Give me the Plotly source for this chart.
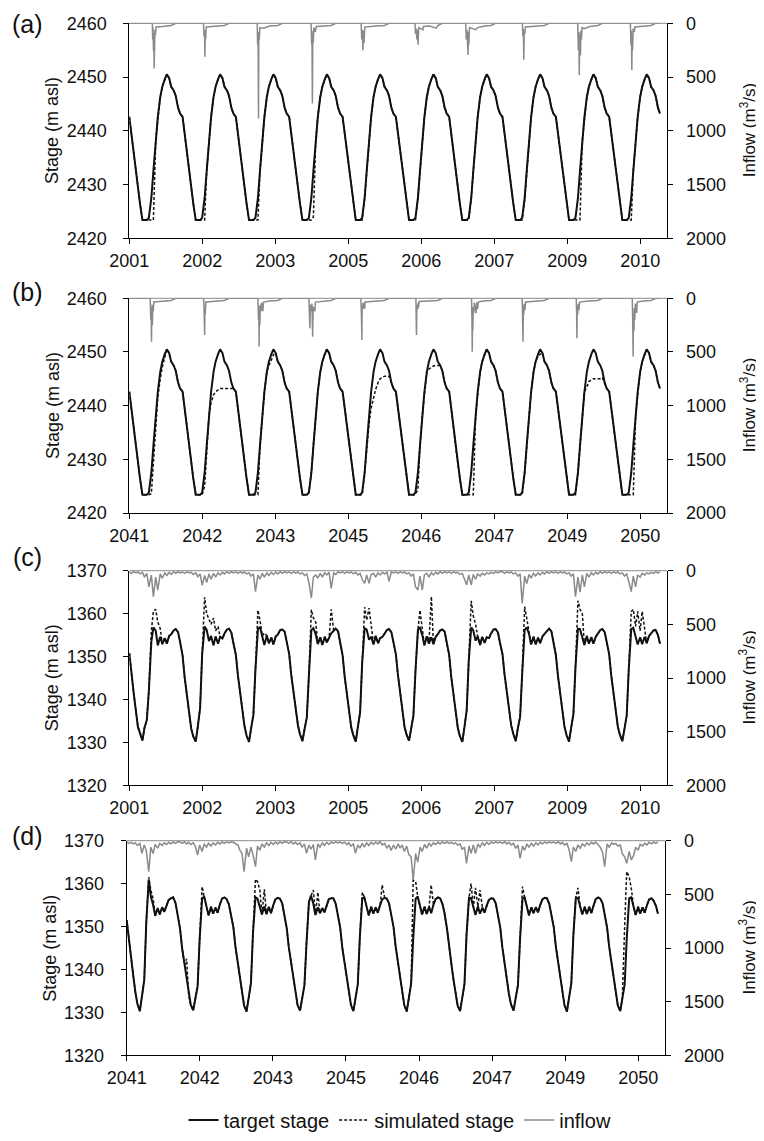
import pandas as pd
import plotly.graph_objects as go

# the page body has an 8 px margin, so the figure is sized to the remaining viewport
W, H = 756, 1133
OFF = 8

# ---------------- x positions: semi-monthly samples (1st and 15th of each month) ----------------
dates_hist = pd.date_range("2001-01-01", "2010-12-15", freq="SMS")
dates_fut = pd.date_range("2041-01-01", "2050-12-15", freq="SMS")

# ---------------- panels (a) and (b): stage (m asl), one row per year, 24 values ----------------
target_ab = [
    [2442.6, 2439.5, 2436.0, 2432.2, 2429.2, 2426.5, 2423.4, 2423.4, 2423.4, 2423.8, 2427.5, 2432.5, 2438.3, 2442.5, 2446.3, 2448.2, 2449.6, 2450.5, 2449.8, 2448.2, 2447.5, 2446.5, 2444.3, 2443.2],
    [2442.6, 2439.5, 2436.0, 2432.2, 2429.2, 2426.5, 2423.4, 2423.4, 2423.4, 2423.8, 2427.5, 2432.5, 2438.3, 2442.5, 2446.3, 2448.2, 2449.6, 2450.5, 2449.8, 2448.2, 2447.5, 2446.5, 2444.3, 2443.2],
    [2442.6, 2439.5, 2436.0, 2432.2, 2429.2, 2426.5, 2423.4, 2423.4, 2423.4, 2423.8, 2427.5, 2432.5, 2438.3, 2442.5, 2446.3, 2448.2, 2449.6, 2450.5, 2449.8, 2448.2, 2447.5, 2446.5, 2444.3, 2443.2],
    [2442.6, 2439.5, 2436.0, 2432.2, 2429.2, 2426.5, 2423.4, 2423.4, 2423.4, 2423.8, 2427.5, 2432.5, 2438.3, 2442.5, 2446.3, 2448.2, 2449.6, 2450.5, 2449.8, 2448.2, 2447.5, 2446.5, 2444.3, 2443.2],
    [2442.6, 2439.5, 2436.0, 2432.2, 2429.2, 2426.5, 2423.4, 2423.4, 2423.4, 2423.8, 2427.5, 2432.5, 2438.3, 2442.5, 2446.3, 2448.2, 2449.6, 2450.5, 2449.8, 2448.2, 2447.5, 2446.5, 2444.3, 2443.2],
    [2442.6, 2439.5, 2436.0, 2432.2, 2429.2, 2426.5, 2423.4, 2423.4, 2423.4, 2423.8, 2427.5, 2432.5, 2438.3, 2442.5, 2446.3, 2448.2, 2449.6, 2450.5, 2449.8, 2448.2, 2447.5, 2446.5, 2444.3, 2443.2],
    [2442.6, 2439.5, 2436.0, 2432.2, 2429.2, 2426.5, 2423.4, 2423.4, 2423.4, 2423.8, 2427.5, 2432.5, 2438.3, 2442.5, 2446.3, 2448.2, 2449.6, 2450.5, 2449.8, 2448.2, 2447.5, 2446.5, 2444.3, 2443.2],
    [2442.6, 2439.5, 2436.0, 2432.2, 2429.2, 2426.5, 2423.4, 2423.4, 2423.4, 2423.8, 2427.5, 2432.5, 2438.3, 2442.5, 2446.3, 2448.2, 2449.6, 2450.5, 2449.8, 2448.2, 2447.5, 2446.5, 2444.3, 2443.2],
    [2442.6, 2439.5, 2436.0, 2432.2, 2429.2, 2426.5, 2423.4, 2423.4, 2423.4, 2423.8, 2427.5, 2432.5, 2438.3, 2442.5, 2446.3, 2448.2, 2449.6, 2450.5, 2449.8, 2448.2, 2447.5, 2446.5, 2444.3, 2443.2],
    [2442.6, 2439.5, 2436.0, 2432.2, 2429.2, 2426.5, 2423.4, 2423.4, 2423.4, 2423.8, 2427.5, 2432.5, 2438.3, 2442.5, 2446.3, 2448.2, 2449.6, 2450.5, 2449.8, 2448.2, 2447.5, 2446.5, 2444.3, 2443.2],
]

sim_a = [
    [2442.6, 2439.5, 2436.0, 2432.2, 2429.2, 2426.5, 2423.4, 2423.4, 2423.4, 2423.4, 2423.4, 2423.4, 2438.3, 2442.5, 2446.3, 2448.2, 2449.6, 2450.5, 2449.8, 2448.2, 2447.5, 2446.5, 2444.3, 2443.2],
    [2442.6, 2439.5, 2436.0, 2432.2, 2429.2, 2426.5, 2423.4, 2423.4, 2423.4, 2423.4, 2423.4, 2432.5, 2438.3, 2442.5, 2446.3, 2448.2, 2449.6, 2450.5, 2449.8, 2448.2, 2447.5, 2446.5, 2444.3, 2443.2],
    [2442.6, 2439.5, 2436.0, 2432.2, 2429.2, 2426.5, 2423.4, 2423.4, 2423.4, 2423.4, 2423.4, 2432.5, 2438.3, 2442.5, 2446.3, 2448.2, 2449.6, 2450.5, 2449.8, 2448.2, 2447.5, 2446.5, 2444.3, 2443.2],
    [2442.6, 2439.5, 2436.0, 2432.2, 2429.2, 2426.5, 2423.4, 2423.4, 2423.4, 2423.4, 2423.4, 2424.0, 2438.3, 2442.5, 2446.3, 2448.2, 2449.6, 2450.5, 2449.8, 2448.2, 2447.5, 2446.5, 2444.3, 2443.2],
    [2442.6, 2439.5, 2436.0, 2432.2, 2429.2, 2426.5, 2423.4, 2423.4, 2423.4, 2423.4, 2427.5, 2432.5, 2438.3, 2442.5, 2446.3, 2448.2, 2449.6, 2450.5, 2449.8, 2448.2, 2447.5, 2446.5, 2444.3, 2443.2],
    [2442.6, 2439.5, 2436.0, 2432.2, 2429.2, 2426.5, 2423.4, 2423.4, 2423.4, 2423.4, 2427.5, 2432.5, 2438.3, 2442.5, 2446.3, 2448.2, 2449.6, 2450.5, 2449.8, 2448.2, 2447.5, 2446.5, 2444.3, 2443.2],
    [2442.6, 2439.5, 2436.0, 2432.2, 2429.2, 2426.5, 2423.4, 2423.4, 2423.4, 2423.4, 2427.5, 2432.5, 2438.3, 2442.5, 2446.3, 2448.2, 2449.6, 2450.5, 2449.8, 2448.2, 2447.5, 2446.5, 2444.3, 2443.2],
    [2442.6, 2439.5, 2436.0, 2432.2, 2429.2, 2426.5, 2423.4, 2423.4, 2423.4, 2423.4, 2427.0, 2432.5, 2438.3, 2442.5, 2446.3, 2448.2, 2449.6, 2450.5, 2449.8, 2448.2, 2447.5, 2446.5, 2444.3, 2443.2],
    [2442.6, 2439.5, 2436.0, 2432.2, 2429.2, 2426.5, 2423.4, 2423.4, 2423.4, 2423.4, 2423.4, 2423.4, 2438.3, 2442.5, 2446.3, 2448.2, 2449.6, 2450.5, 2449.8, 2448.2, 2447.5, 2446.5, 2444.3, 2443.2],
    [2442.6, 2439.5, 2436.0, 2432.2, 2429.2, 2426.5, 2423.4, 2423.4, 2423.4, 2423.4, 2423.4, 2432.5, 2438.3, 2442.5, 2446.3, 2448.2, 2449.6, 2450.5, 2449.8, 2448.2, 2447.5, 2446.5, 2444.3, 2443.2],
]

sim_b = [
    [2442.6, 2439.5, 2436.0, 2432.2, 2429.2, 2426.5, 2423.4, 2423.4, 2423.4, 2423.4, 2423.6, 2430.0, 2437.0, 2441.5, 2445.0, 2447.2, 2449.0, 2450.5, 2449.8, 2448.2, 2447.5, 2446.5, 2444.3, 2443.2],
    [2442.6, 2439.5, 2436.0, 2432.2, 2429.2, 2426.5, 2423.4, 2423.4, 2423.4, 2423.4, 2425.0, 2432.5, 2438.3, 2440.5, 2442.0, 2442.6, 2443.0, 2443.2, 2443.2, 2443.2, 2443.2, 2443.2, 2443.3, 2443.2],
    [2442.6, 2439.5, 2436.0, 2432.2, 2429.2, 2426.5, 2423.4, 2423.4, 2423.4, 2423.4, 2423.4, 2432.5, 2438.3, 2442.5, 2446.3, 2447.5, 2448.5, 2449.5, 2449.8, 2448.2, 2447.5, 2446.5, 2444.3, 2443.2],
    [2442.6, 2439.5, 2436.0, 2432.2, 2429.2, 2426.5, 2423.4, 2423.4, 2423.4, 2423.8, 2427.5, 2432.5, 2438.3, 2442.5, 2446.3, 2448.2, 2449.6, 2450.5, 2449.8, 2448.2, 2447.5, 2446.5, 2444.3, 2443.2],
    [2442.6, 2439.5, 2436.0, 2432.2, 2429.2, 2426.5, 2423.4, 2423.4, 2423.4, 2423.4, 2427.5, 2432.5, 2436.5, 2439.5, 2441.5, 2443.0, 2444.3, 2445.0, 2445.3, 2445.5, 2445.5, 2445.5, 2444.3, 2443.2],
    [2442.6, 2439.5, 2436.0, 2432.2, 2429.2, 2426.5, 2423.4, 2423.4, 2423.4, 2423.4, 2424.5, 2432.5, 2438.3, 2442.5, 2446.3, 2446.8, 2447.2, 2447.4, 2447.5, 2447.5, 2447.5, 2446.5, 2444.3, 2443.2],
    [2442.6, 2439.5, 2436.0, 2432.2, 2429.2, 2426.5, 2423.4, 2423.4, 2423.4, 2423.4, 2423.4, 2423.4, 2438.3, 2442.5, 2446.3, 2448.2, 2449.6, 2450.5, 2449.8, 2448.2, 2447.5, 2446.5, 2444.3, 2443.2],
    [2442.6, 2439.5, 2436.0, 2432.2, 2429.2, 2426.5, 2423.4, 2423.4, 2423.4, 2423.4, 2427.5, 2432.5, 2438.3, 2442.5, 2446.3, 2448.2, 2449.2, 2449.6, 2449.8, 2448.2, 2447.5, 2446.5, 2444.3, 2443.2],
    [2442.6, 2439.5, 2436.0, 2432.2, 2429.2, 2426.5, 2423.4, 2423.4, 2423.4, 2423.4, 2427.5, 2432.5, 2438.3, 2442.5, 2443.5, 2444.5, 2444.8, 2445.0, 2445.0, 2445.0, 2445.0, 2445.2, 2444.3, 2443.2],
    [2442.6, 2439.5, 2436.0, 2432.2, 2429.2, 2426.5, 2423.4, 2423.4, 2423.4, 2423.4, 2423.4, 2423.4, 2438.3, 2442.5, 2446.3, 2448.2, 2449.6, 2450.5, 2449.8, 2448.2, 2447.5, 2446.5, 2444.3, 2443.2],
]

# inflow (m3/s) for (a) and (b): (date, value) read at the spikes
inflow_a = [
    ("2001-01-01", 0), ("2001-06-08", 0), ("2001-06-10", 150), ("2001-06-12", 40), ("2001-06-16", 260), ("2001-06-18", 90),
    ("2001-06-20", 420), ("2001-06-23", 120), ("2001-06-26", 60), ("2001-06-29", 110), ("2001-07-03", 35), ("2001-08-15", 30),
    ("2001-10-15", 20), ("2001-11-15", 0),
    ("2002-05-24", 0), ("2002-05-28", 120), ("2002-05-31", 60), ("2002-06-03", 310), ("2002-06-05", 90), ("2002-06-08", 150),
    ("2002-06-12", 35), ("2002-08-15", 25), ("2002-10-15", 20), ("2002-11-15", 0),
    ("2003-05-27", 0), ("2003-05-30", 200), ("2003-06-02", 80), ("2003-06-05", 885), ("2003-06-07", 120), ("2003-06-10", 150),
    ("2003-06-14", 40), ("2003-07-10", 45), ("2003-08-20", 25), ("2003-10-15", 20), ("2003-11-15", 0),
    ("2004-05-30", 0), ("2004-06-03", 200), ("2004-06-05", 70), ("2004-06-08", 745), ("2004-06-11", 90), ("2004-06-14", 180),
    ("2004-06-18", 40), ("2004-06-28", 80), ("2004-07-05", 30), ("2004-08-20", 25), ("2004-10-15", 20), ("2004-11-15", 0),
    ("2005-05-08", 0), ("2005-05-12", 150), ("2005-05-16", 60), ("2005-05-20", 250), ("2005-05-24", 70), ("2005-05-28", 180),
    ("2005-06-02", 35), ("2005-08-15", 25), ("2005-10-15", 20), ("2005-11-15", 0),
    ("2006-05-12", 0), ("2006-05-15", 100), ("2006-05-20", 50), ("2006-05-25", 150), ("2006-05-29", 60), ("2006-06-02", 200),
    ("2006-06-06", 40), ("2006-07-05", 60), ("2006-07-08", 30), ("2006-08-20", 25), ("2006-10-05", 45), ("2006-10-15", 20),
    ("2006-11-15", 0),
    ("2007-04-24", 0), ("2007-04-28", 150), ("2007-05-03", 60), ("2007-05-10", 295), ("2007-05-13", 80), ("2007-05-16", 200),
    ("2007-05-20", 40), ("2007-06-10", 50), ("2007-07-01", 60), ("2007-07-15", 40), ("2007-09-01", 25), ("2007-10-15", 20),
    ("2007-11-15", 0),
    ("2008-05-16", 0), ("2008-05-20", 120), ("2008-05-23", 50), ("2008-05-26", 340), ("2008-05-29", 80), ("2008-06-02", 100),
    ("2008-06-06", 35), ("2008-08-20", 25), ("2008-10-15", 20), ("2008-11-15", 0),
    ("2009-05-30", 0), ("2009-06-04", 250), ("2009-06-07", 80), ("2009-06-10", 480), ("2009-06-13", 100), ("2009-06-18", 300),
    ("2009-06-21", 70), ("2009-06-25", 150), ("2009-06-29", 40), ("2009-07-15", 50), ("2009-08-20", 30), ("2009-10-15", 20),
    ("2009-11-15", 0),
    ("2010-05-26", 0), ("2010-05-30", 200), ("2010-06-02", 70), ("2010-06-05", 435), ("2010-06-08", 100), ("2010-06-10", 250),
    ("2010-06-14", 50), ("2010-06-22", 80), ("2010-06-26", 35), ("2010-08-20", 30), ("2010-10-15", 20), ("2010-11-15", 0),
    ("2010-12-15", 0),
]

inflow_b = [
    ("2041-01-01", 0), ("2041-05-24", 0), ("2041-05-28", 200), ("2041-05-30", 60), ("2041-06-02", 404), ("2041-06-05", 90),
    ("2041-06-08", 250), ("2041-06-11", 60), ("2041-06-14", 120), ("2041-06-18", 35), ("2041-08-15", 30), ("2041-10-15", 20),
    ("2041-11-15", 0),
    ("2042-05-25", 0), ("2042-05-28", 100), ("2042-06-01", 341), ("2042-06-03", 80), ("2042-06-05", 150), ("2042-06-09", 35),
    ("2042-08-15", 25), ("2042-10-15", 20), ("2042-11-15", 0),
    ("2043-06-01", 0), ("2043-06-05", 200), ("2043-06-07", 70), ("2043-06-09", 450), ("2043-06-11", 90), ("2043-06-14", 250),
    ("2043-06-18", 60), ("2043-06-22", 120), ("2043-06-26", 40), ("2043-07-05", 120), ("2043-07-09", 35), ("2043-08-20", 25),
    ("2043-10-15", 20), ("2043-11-15", 0),
    ("2044-05-15", 0), ("2044-05-19", 150), ("2044-05-22", 280), ("2044-05-25", 60), ("2044-06-01", 120), ("2044-06-05", 50),
    ("2044-06-10", 357), ("2044-06-13", 80), ("2044-06-18", 100), ("2044-06-25", 120), ("2044-06-29", 35), ("2044-08-20", 25),
    ("2044-10-15", 20), ("2044-11-15", 0),
    ("2045-05-06", 0), ("2045-05-10", 150), ("2045-05-13", 388), ("2045-05-15", 60), ("2045-05-18", 100), ("2045-05-22", 40),
    ("2045-06-01", 100), ("2045-06-04", 35), ("2045-08-15", 25), ("2045-10-15", 20), ("2045-11-15", 0),
    ("2046-05-18", 0), ("2046-05-22", 341), ("2046-05-25", 60), ("2046-06-01", 100), ("2046-06-03", 40), ("2046-06-05", 80),
    ("2046-06-09", 30), ("2046-08-15", 25), ("2046-10-15", 20), ("2046-11-15", 0),
    ("2047-06-03", 0), ("2047-06-06", 200), ("2047-06-08", 497), ("2047-06-10", 120), ("2047-06-12", 300), ("2047-06-15", 80),
    ("2047-06-18", 137), ("2047-06-22", 40), ("2047-07-05", 140), ("2047-07-08", 40), ("2047-07-15", 100), ("2047-07-19", 35),
    ("2047-08-20", 25), ("2047-10-15", 20), ("2047-11-15", 0),
    ("2048-05-15", 0), ("2048-05-18", 150), ("2048-05-21", 404), ("2048-05-23", 70), ("2048-05-26", 150), ("2048-05-29", 50),
    ("2048-06-03", 110), ("2048-06-07", 35), ("2048-08-15", 25), ("2048-10-15", 20), ("2048-11-15", 0),
    ("2049-05-20", 0), ("2049-05-23", 150), ("2049-05-25", 372), ("2049-05-27", 70), ("2049-05-30", 150), ("2049-06-03", 50),
    ("2049-06-08", 110), ("2049-06-12", 35), ("2049-08-15", 25), ("2049-10-15", 20), ("2049-11-15", 0),
    ("2050-06-08", 0), ("2050-06-11", 200), ("2050-06-12", 400), ("2050-06-14", 543), ("2050-06-16", 150), ("2050-06-20", 300),
    ("2050-06-22", 90), ("2050-06-25", 200), ("2050-06-29", 50), ("2050-07-08", 137), ("2050-07-12", 35), ("2050-08-20", 25),
    ("2050-10-15", 20), ("2050-11-15", 0), ("2050-12-15", 0),
]

# ---------------- panel (c): stage (m asl), rows per year 2001..2010 ----------------
target_c = [
    [1350.8, 1346.0, 1341.2, 1337.4, 1333.6, 1332.2, 1330.4, 1333.4, 1335.2, 1342.0, 1353.5, 1356.8, 1356.0, 1352.6, 1354.6, 1352.9, 1354.3, 1353.0, 1354.8, 1355.2, 1356.1, 1356.4, 1355.7, 1353.4],
    [1350.2, 1345.2, 1340.6, 1336.8, 1333.2, 1331.4, 1330.2, 1333.6, 1338.0, 1350.5, 1357.0, 1356.2, 1353.6, 1354.8, 1352.6, 1354.7, 1353.0, 1354.6, 1354.2, 1355.4, 1356.3, 1356.5, 1355.6, 1353.1],
    [1350.4, 1345.6, 1341.4, 1337.2, 1333.8, 1331.6, 1330.1, 1333.2, 1336.4, 1347.0, 1356.4, 1356.9, 1354.8, 1352.7, 1354.9, 1353.1, 1354.4, 1352.8, 1354.7, 1355.1, 1356.2, 1356.3, 1355.8, 1353.5],
    [1350.6, 1345.8, 1341.0, 1337.6, 1334.0, 1331.9, 1330.3, 1333.0, 1335.8, 1345.5, 1356.2, 1356.6, 1355.2, 1352.9, 1354.5, 1352.7, 1354.6, 1353.3, 1354.5, 1355.4, 1356.0, 1356.5, 1355.9, 1353.2],
    [1350.3, 1345.4, 1340.9, 1337.3, 1333.5, 1331.7, 1330.2, 1333.5, 1337.0, 1348.5, 1356.6, 1356.3, 1353.9, 1354.6, 1352.8, 1354.8, 1353.1, 1354.3, 1354.6, 1355.3, 1356.2, 1356.4, 1355.7, 1353.4],
    [1350.5, 1345.7, 1341.1, 1337.5, 1333.7, 1331.8, 1330.4, 1333.1, 1336.2, 1346.5, 1356.3, 1356.7, 1355.0, 1352.6, 1354.7, 1353.0, 1354.5, 1352.9, 1354.6, 1355.2, 1356.1, 1356.3, 1355.8, 1353.3],
    [1350.4, 1345.3, 1340.8, 1337.1, 1333.4, 1331.5, 1330.1, 1333.4, 1337.5, 1349.0, 1356.8, 1356.1, 1353.7, 1354.7, 1352.7, 1354.6, 1353.2, 1354.5, 1354.3, 1355.4, 1356.3, 1356.4, 1355.6, 1353.2],
    [1350.6, 1345.9, 1341.3, 1337.6, 1333.9, 1332.0, 1330.3, 1333.2, 1336.0, 1346.0, 1356.2, 1356.8, 1355.3, 1352.8, 1354.6, 1352.8, 1354.4, 1353.1, 1354.7, 1355.3, 1356.0, 1356.5, 1355.9, 1353.5],
    [1350.3, 1345.5, 1341.0, 1337.3, 1333.6, 1331.7, 1330.2, 1333.3, 1336.6, 1347.5, 1356.5, 1356.4, 1354.5, 1352.7, 1354.8, 1353.0, 1354.5, 1353.0, 1354.6, 1355.2, 1356.2, 1356.4, 1355.7, 1353.4],
    [1350.5, 1345.6, 1341.2, 1337.4, 1333.7, 1331.8, 1330.3, 1333.0, 1336.3, 1347.0, 1356.4, 1356.7, 1354.9, 1352.8, 1354.5, 1352.9, 1354.6, 1353.1, 1354.8, 1355.4, 1356.1, 1356.2, 1355.0, 1353.0],
]

sim_c = [
    [1350.8, 1346.0, 1341.2, 1337.4, 1333.6, 1332.2, 1330.4, 1333.4, 1335.2, 1342.0, 1356.0, 1360.5, 1361.0, 1358.0, 1356.5, 1352.9, 1354.3, 1353.0, 1354.8, 1355.2, 1356.1, 1356.4, 1355.7, 1353.4],
    [1350.2, 1345.2, 1340.6, 1336.8, 1333.2, 1331.4, 1330.2, 1333.6, 1338.0, 1350.5, 1363.8, 1360.0, 1358.5, 1357.5, 1359.0, 1356.0, 1357.0, 1354.6, 1354.2, 1355.4, 1356.3, 1356.5, 1355.6, 1353.1],
    [1350.4, 1345.6, 1341.4, 1337.2, 1333.8, 1331.6, 1330.1, 1333.2, 1336.4, 1347.0, 1360.8, 1358.5, 1354.8, 1355.5, 1354.9, 1353.1, 1354.4, 1352.8, 1354.7, 1355.1, 1356.2, 1356.3, 1355.8, 1353.5],
    [1350.6, 1345.8, 1341.0, 1337.6, 1334.0, 1331.9, 1330.3, 1333.0, 1335.8, 1345.5, 1360.9, 1359.0, 1358.0, 1352.9, 1354.5, 1352.7, 1354.6, 1353.3, 1354.5, 1361.0, 1356.0, 1356.5, 1355.9, 1353.2],
    [1350.3, 1345.4, 1340.9, 1337.3, 1333.5, 1331.7, 1330.2, 1333.5, 1337.0, 1348.5, 1361.5, 1358.5, 1361.3, 1357.5, 1352.8, 1354.8, 1353.1, 1354.3, 1354.6, 1355.3, 1356.2, 1356.4, 1355.7, 1353.4],
    [1350.5, 1345.7, 1341.1, 1337.5, 1333.7, 1331.8, 1330.4, 1333.1, 1336.2, 1346.5, 1356.3, 1360.8, 1357.0, 1352.6, 1354.7, 1353.0, 1364.0, 1352.9, 1354.6, 1355.2, 1356.1, 1356.3, 1355.8, 1353.3],
    [1350.4, 1345.3, 1340.8, 1337.1, 1333.4, 1331.5, 1330.1, 1333.4, 1337.5, 1349.0, 1363.0, 1359.5, 1357.5, 1354.7, 1352.7, 1354.6, 1353.2, 1354.5, 1354.3, 1355.4, 1356.3, 1356.4, 1355.6, 1353.2],
    [1350.6, 1345.9, 1341.3, 1337.6, 1333.9, 1332.0, 1330.3, 1333.2, 1336.0, 1346.0, 1361.6, 1359.0, 1355.3, 1352.8, 1354.6, 1352.8, 1354.4, 1353.1, 1354.7, 1355.3, 1356.0, 1356.5, 1355.9, 1353.5],
    [1350.3, 1345.5, 1341.0, 1337.3, 1333.6, 1331.7, 1330.2, 1333.3, 1336.6, 1347.5, 1363.0, 1361.0, 1360.0, 1352.7, 1354.8, 1353.0, 1354.5, 1353.0, 1354.6, 1355.2, 1356.2, 1356.4, 1355.7, 1353.4],
    [1350.5, 1345.6, 1341.2, 1337.4, 1333.7, 1331.8, 1330.3, 1333.0, 1336.3, 1347.0, 1360.5, 1361.0, 1357.0, 1360.5, 1356.0, 1360.5, 1357.0, 1353.1, 1354.8, 1355.4, 1356.1, 1356.2, 1355.0, 1353.0],
]

inflow_c = [
    [10, 25, 8, 20, 12, 30, 15, 60, 25, 150, 40, 242, 60, 180, 30, 70, 20, 45, 15, 35, 10, 25, 8, 20],
    [12, 25, 10, 20, 15, 35, 20, 55, 30, 135, 45, 110, 30, 80, 25, 60, 20, 40, 15, 30, 10, 25, 8, 20],
    [10, 25, 10, 22, 12, 30, 20, 50, 30, 195, 40, 80, 25, 60, 20, 45, 15, 35, 12, 30, 10, 25, 8, 20],
    [10, 25, 10, 22, 12, 30, 20, 45, 30, 110, 254, 60, 40, 70, 25, 60, 20, 40, 15, 165, 20, 35, 10, 20],
    [10, 25, 10, 20, 12, 30, 15, 40, 25, 80, 118, 40, 118, 35, 25, 60, 20, 40, 15, 30, 15, 100, 10, 20],
    [10, 25, 10, 20, 12, 30, 20, 50, 30, 150, 180, 50, 180, 40, 25, 60, 20, 40, 15, 30, 10, 25, 8, 20],
    [10, 25, 10, 20, 15, 35, 25, 70, 133, 40, 133, 35, 80, 30, 50, 25, 40, 20, 30, 15, 25, 10, 20, 8],
    [10, 25, 10, 20, 12, 30, 20, 50, 30, 304, 50, 120, 35, 70, 25, 50, 20, 40, 15, 30, 10, 25, 8, 20],
    [10, 25, 10, 20, 12, 30, 20, 50, 30, 242, 60, 200, 40, 150, 25, 60, 20, 40, 15, 30, 10, 25, 8, 20],
    [10, 25, 10, 20, 12, 30, 20, 50, 30, 100, 195, 50, 150, 40, 60, 25, 40, 20, 30, 15, 25, 10, 20, 8],
]

# ---------------- panel (d): stage (m asl), rows per year 2041..2050 ----------------
target_d = [
    [1351.5, 1347.0, 1342.0, 1338.5, 1334.8, 1332.0, 1330.3, 1333.5, 1337.5, 1351.0, 1361.0, 1357.0, 1355.0, 1352.5, 1354.3, 1352.8, 1354.5, 1353.4, 1355.0, 1356.2, 1356.6, 1356.8, 1355.5, 1353.0],
    [1349.5, 1345.0, 1341.0, 1337.5, 1334.0, 1331.8, 1330.5, 1333.2, 1336.0, 1347.0, 1356.5, 1357.0, 1354.8, 1352.6, 1354.6, 1353.0, 1354.4, 1353.2, 1355.2, 1356.5, 1356.8, 1356.4, 1355.2, 1352.8],
    [1349.8, 1345.3, 1341.2, 1337.8, 1334.2, 1331.6, 1330.2, 1333.6, 1336.8, 1348.5, 1356.8, 1356.5, 1354.2, 1352.8, 1354.7, 1352.9, 1354.6, 1353.1, 1355.0, 1356.3, 1356.7, 1356.5, 1355.4, 1353.1],
    [1349.6, 1345.2, 1341.1, 1337.6, 1334.1, 1331.7, 1330.4, 1333.3, 1336.3, 1346.0, 1355.8, 1357.2, 1355.3, 1352.7, 1354.5, 1353.1, 1354.3, 1353.3, 1355.1, 1356.4, 1356.6, 1356.6, 1355.3, 1352.9],
    [1349.7, 1345.1, 1341.0, 1337.5, 1334.0, 1331.8, 1330.3, 1333.4, 1336.5, 1347.5, 1356.6, 1356.8, 1354.6, 1352.6, 1354.6, 1353.0, 1354.5, 1353.2, 1355.0, 1356.3, 1356.7, 1356.5, 1355.4, 1353.0],
    [1349.8, 1345.4, 1341.2, 1337.7, 1334.2, 1331.7, 1330.2, 1333.5, 1336.7, 1347.0, 1356.5, 1357.0, 1354.7, 1352.8, 1354.6, 1352.9, 1354.6, 1353.1, 1355.1, 1356.4, 1356.8, 1356.6, 1355.3, 1353.2],
    [1349.6, 1345.3, 1341.1, 1337.6, 1334.0, 1331.6, 1330.3, 1333.4, 1336.6, 1348.0, 1356.7, 1356.6, 1354.5, 1352.7, 1354.7, 1353.0, 1354.4, 1353.2, 1355.0, 1356.2, 1356.6, 1356.5, 1355.4, 1353.1],
    [1349.7, 1345.2, 1341.0, 1337.5, 1334.1, 1331.8, 1330.4, 1333.3, 1336.4, 1347.0, 1356.4, 1356.9, 1354.8, 1352.6, 1354.5, 1353.1, 1354.5, 1353.3, 1355.1, 1356.3, 1356.7, 1356.6, 1355.3, 1353.0],
    [1349.8, 1345.4, 1341.2, 1337.7, 1334.2, 1331.7, 1330.2, 1333.5, 1336.8, 1348.0, 1356.8, 1356.7, 1354.6, 1352.8, 1354.6, 1352.9, 1354.6, 1353.1, 1355.0, 1356.4, 1356.8, 1356.5, 1355.4, 1353.2],
    [1349.7, 1345.3, 1341.1, 1337.6, 1334.0, 1331.6, 1330.3, 1333.4, 1336.5, 1347.0, 1356.6, 1356.8, 1354.7, 1352.7, 1354.6, 1353.0, 1354.5, 1353.2, 1355.0, 1356.3, 1356.6, 1356.0, 1354.8, 1353.0],
]

sim_d = [
    [1351.5, 1347.0, 1342.0, 1338.5, 1334.8, 1332.0, 1330.3, 1333.5, 1337.5, 1351.0, 1361.5, 1358.5, 1356.5, 1352.5, 1354.3, 1352.8, 1354.5, 1353.4, 1355.0, 1356.2, 1356.6, 1356.8, 1355.5, 1353.0],
    [1349.5, 1345.0, 1341.0, 1342.5, 1334.0, 1331.8, 1330.5, 1333.2, 1336.0, 1347.0, 1359.3, 1357.0, 1354.8, 1352.6, 1354.6, 1353.0, 1354.4, 1353.2, 1355.2, 1356.5, 1356.8, 1356.4, 1355.2, 1352.8],
    [1349.8, 1345.3, 1341.2, 1337.8, 1334.2, 1331.6, 1330.2, 1333.6, 1336.8, 1348.5, 1361.0, 1360.5, 1358.5, 1352.8, 1358.7, 1352.9, 1354.6, 1353.1, 1355.0, 1356.3, 1356.7, 1356.5, 1355.4, 1353.1],
    [1349.6, 1345.2, 1341.1, 1337.6, 1334.1, 1331.7, 1330.4, 1333.3, 1336.3, 1346.0, 1355.8, 1357.2, 1358.5, 1352.7, 1358.0, 1353.1, 1354.3, 1353.3, 1355.1, 1356.4, 1356.6, 1356.6, 1355.3, 1352.9],
    [1349.7, 1345.1, 1341.0, 1337.5, 1334.0, 1331.8, 1330.3, 1333.4, 1336.5, 1347.5, 1358.0, 1356.8, 1354.6, 1352.6, 1354.6, 1353.0, 1354.5, 1353.2, 1355.0, 1359.7, 1356.7, 1356.5, 1355.4, 1353.0],
    [1349.8, 1345.4, 1341.2, 1337.7, 1334.2, 1331.7, 1330.2, 1333.5, 1336.7, 1360.8, 1360.5, 1357.0, 1354.7, 1352.8, 1354.6, 1352.9, 1354.6, 1359.7, 1355.1, 1356.4, 1356.8, 1356.6, 1355.3, 1353.2],
    [1349.6, 1345.3, 1341.1, 1337.6, 1334.0, 1331.6, 1330.3, 1333.4, 1336.6, 1348.0, 1356.7, 1360.0, 1354.5, 1359.0, 1354.7, 1358.5, 1354.4, 1353.2, 1355.0, 1356.2, 1356.6, 1356.5, 1355.4, 1353.1],
    [1349.7, 1345.2, 1341.0, 1337.5, 1334.1, 1331.8, 1330.4, 1333.3, 1336.4, 1347.0, 1359.3, 1356.9, 1354.8, 1352.6, 1354.5, 1353.1, 1354.5, 1353.3, 1355.1, 1356.3, 1356.7, 1356.6, 1355.3, 1353.0],
    [1349.8, 1345.4, 1341.2, 1337.7, 1334.2, 1331.7, 1330.2, 1333.5, 1336.8, 1348.0, 1356.8, 1359.0, 1354.6, 1352.8, 1354.6, 1352.9, 1354.6, 1353.1, 1355.0, 1356.4, 1356.8, 1356.5, 1355.4, 1353.2],
    [1349.7, 1345.3, 1341.1, 1337.6, 1334.0, 1331.6, 1330.3, 1333.4, 1350.0, 1362.8, 1361.5, 1359.0, 1354.7, 1352.7, 1354.6, 1353.0, 1354.5, 1353.2, 1355.0, 1356.3, 1356.6, 1356.0, 1354.8, 1353.0],
]

inflow_d = [
    [12, 25, 15, 30, 20, 45, 25, 117, 40, 90, 288, 60, 120, 35, 70, 25, 45, 20, 35, 15, 30, 12, 25, 10],
    [12, 25, 10, 30, 15, 35, 20, 50, 133, 40, 100, 30, 60, 25, 50, 20, 40, 15, 30, 12, 25, 10, 20, 10],
    [15, 30, 40, 90, 120, 288, 70, 150, 60, 130, 242, 50, 90, 30, 60, 20, 45, 15, 35, 12, 30, 10, 25, 10],
    [12, 25, 10, 30, 15, 35, 20, 60, 30, 117, 40, 80, 35, 180, 30, 60, 20, 45, 15, 35, 12, 25, 10, 20],
    [12, 25, 15, 35, 20, 50, 30, 117, 40, 70, 25, 60, 20, 45, 15, 35, 12, 30, 10, 40, 25, 70, 40, 90],
    [40, 80, 30, 70, 40, 100, 50, 130, 150, 366, 120, 200, 60, 100, 35, 70, 25, 50, 20, 35, 15, 30, 12, 25],
    [12, 25, 15, 30, 20, 40, 30, 80, 60, 211, 50, 117, 40, 120, 30, 60, 20, 45, 15, 35, 12, 25, 10, 20],
    [12, 25, 10, 30, 15, 40, 25, 70, 40, 164, 50, 90, 30, 60, 25, 50, 20, 40, 15, 30, 12, 25, 10, 20],
    [12, 25, 10, 30, 15, 40, 25, 80, 195, 60, 100, 40, 70, 30, 50, 20, 40, 15, 30, 12, 40, 60, 110, 242],
    [30, 60, 20, 35, 25, 50, 40, 120, 150, 210, 100, 180, 140, 60, 90, 35, 50, 25, 40, 15, 30, 12, 25, 10],
]

panel_labels = ["(a)", "(b)", "(c)", "(d)"]
legend_names = ["target stage", "simulated stage", "inflow"]
stage_title = "Stage (m asl)"
inflow_title = "Inflow (m<sup>3</sup>/s)"


def flat(rows):
    return [v for row in rows for v in row]


def px(x):
    """page x pixel -> paper fraction"""
    return (x - OFF) / W


def py(y):
    """page y pixel -> paper fraction"""
    return 1 - (y - OFF) / H


FONT = "Liberation Sans, Arial, sans-serif"
DAY_MS = 86400000

panels = [
    dict(dates=dates_hist, target=flat(target_ab), sim=flat(sim_a),
         inflow_x=[d for d, _ in inflow_a], inflow_y=[v for _, v in inflow_a],
         yrange=[2420, 2460], x0="2001-01-01", xend="2011-02-03",
         left=129.3, right=667.3, top=23.3, bot=238.3, lab_y=24),
    dict(dates=dates_fut, target=flat(target_ab), sim=flat(sim_b),
         inflow_x=[d for d, _ in inflow_b], inflow_y=[v for _, v in inflow_b],
         yrange=[2420, 2460], x0="2041-01-01", xend="2051-02-03",
         left=129.3, right=667.3, top=298.3, bot=513.0, lab_y=292),
    dict(dates=dates_hist, target=flat(target_c), sim=flat(sim_c),
         inflow_x=dates_hist, inflow_y=flat(inflow_c),
         yrange=[1320, 1370], x0="2001-01-01", xend="2011-02-03",
         left=129.3, right=667.3, top=570.7, bot=785.3, lab_y=557),
    dict(dates=dates_fut, target=flat(target_d), sim=flat(sim_d),
         inflow_x=dates_fut, inflow_y=flat(inflow_d),
         yrange=[1320, 1370], x0="2041-01-01", xend="2051-02-03",
         left=126.7, right=665.3, top=840.7, bot=1055.3, lab_y=836),
]

fig = go.Figure()
layout = {}
annotations = []
shapes = []

for i, p in enumerate(panels):
    xs = "" if i == 0 else str(i + 1)
    yl = "" if i == 0 else str(2 * i + 1)
    yr = str(2 * i + 2)
    xref, ylref, yrref = "x" + xs, "y" + yl, "y" + yr

    fig.add_trace(go.Scatter(
        x=p["dates"], y=p["target"], xaxis=xref, yaxis=ylref, mode="lines",
        line=dict(color="#111111", width=2), name=legend_names[0],
        legendgroup="t", showlegend=(i == 0)))
    fig.add_trace(go.Scatter(
        x=p["dates"], y=p["sim"], xaxis=xref, yaxis=ylref, mode="lines",
        line=dict(color="#111111", width=1.5, dash="3px,2px"), name=legend_names[1],
        legendgroup="s", showlegend=(i == 0)))
    fig.add_trace(go.Scatter(
        x=p["inflow_x"], y=p["inflow_y"], xaxis=xref, yaxis=yrref, mode="lines",
        line=dict(color="#8a8a8a", width=1.5), name=legend_names[2],
        legendgroup="i", showlegend=(i == 0)))

    common = dict(showline=True, linecolor="black", linewidth=1, ticks="outside",
                  ticklen=5, tickcolor="black", showgrid=False, zeroline=False,
                  automargin=False)
    layout["xaxis" + xs] = dict(
        domain=[px(p["left"]), px(p["right"])], anchor=ylref, type="date",
        range=[p["x0"], p["xend"]], tick0=p["x0"], dtick=500 * DAY_MS, tickformat="%Y",
        tickfont=dict(family=FONT, size=18, color="#111111"), ticklabelstandoff=1, **common)
    layout["yaxis" + yl] = dict(
        domain=[py(p["bot"]), py(p["top"])], anchor=xref,
        range=p["yrange"], dtick=10, tick0=p["yrange"][0],
        tickfont=dict(family=FONT, size=18, color="#111111"), ticklabelstandoff=13, **common)
    layout["yaxis" + yr] = dict(
        overlaying=ylref, side="right", anchor=xref, range=[2000, 0], dtick=500, tick0=0,
        tickfont=dict(family=FONT, size=18, color="#111111"), ticklabelstandoff=9, **common)

    # grey top border of each panel
    shapes.append(dict(type="line", xref=xref + " domain", yref=ylref + " domain",
                       x0=0, x1=1, y0=1, y1=1, line=dict(color="#8a8a8a", width=1)))

    mid = (p["top"] + p["bot"]) / 2
    annotations.append(dict(text=panel_labels[i], x=px(27), y=py(p["lab_y"]),
                            xref="paper", yref="paper", showarrow=False,
                            xanchor="center", yanchor="middle",
                            font=dict(family=FONT, size=25, color="#111111")))
    annotations.append(dict(text=stage_title, x=px(p["left"] - 77), y=py(mid),
                            xref="paper", yref="paper", showarrow=False, textangle=-90,
                            xanchor="center", yanchor="middle",
                            font=dict(family=FONT, size=18, color="#111111")))
    annotations.append(dict(text=inflow_title, x=px(747.5), y=py(mid),
                            xref="paper", yref="paper", showarrow=False, textangle=-90,
                            xanchor="center", yanchor="middle",
                            font=dict(family=FONT, size=17, color="#111111")))

fig.update_layout(
    **layout,
    width=W, height=H, autosize=False,
    margin=dict(l=0, r=0, t=0, b=0, pad=0, autoexpand=False),
    paper_bgcolor="white", plot_bgcolor="white",
    annotations=annotations, shapes=shapes,
    showlegend=True,
    legend=dict(orientation="h", x=px(400), xanchor="center", y=py(1120), yanchor="middle",
                font=dict(family=FONT, size=20, color="#111111"), bgcolor="rgba(0,0,0,0)",
                itemwidth=30, tracegroupgap=0),
)

fig.write_html("out.html")
